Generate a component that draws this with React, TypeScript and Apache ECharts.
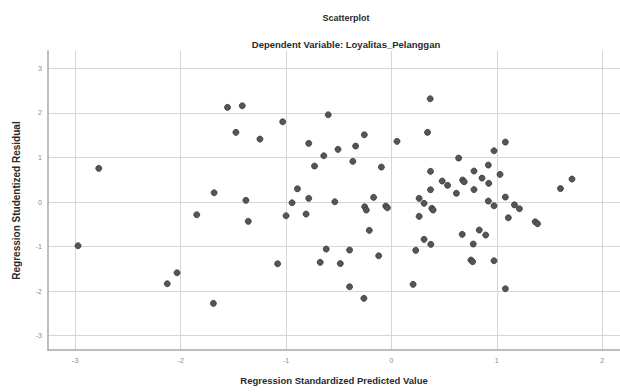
import React, { useEffect, useRef } from "react";
import * as echarts from "echarts";

const predicted: number[] = [
  -2.778, -2.975, -2.128, -2.035, -1.848, -1.69, -1.683, -1.556, -1.416, -1.476,
  -1.381, -1.359, -1.248, -1.032, -1.08, -1.0, -0.943, -0.892, -0.81, -0.785,
  -0.785, -0.73, -0.642, -0.6, -0.507, -0.537, -0.619, -0.676, -0.485, -0.397,
  -0.397, -0.366, -0.34, -0.257, -0.261, -0.254, -0.238, -0.21, -0.169, -0.121,
  -0.095, -0.054, -0.038, 0.053, 0.206, 0.231, 0.263, 0.263, 0.31, 0.31,
  0.343, 0.368, 0.371, 0.371, 0.374, 0.384, 0.396, 0.482, 0.533, 0.617,
  0.638, 0.676, 0.691, 0.672, 0.755, 0.771, 0.777, 0.784, 0.784, 0.834,
  0.86, 0.895, 0.92, 0.924, 0.92, 0.974, 0.974, 0.974, 1.031, 1.082,
  1.082, 1.082, 1.11, 1.168, 1.215, 1.365, 1.387, 1.605, 1.714,
];
const residual: number[] = [
  0.756, -0.98, -1.833, -1.586, -0.285, -2.273, 0.209, 2.125, 2.161, 1.564,
  0.038, -0.433, 1.413, 1.802, -1.384, -0.307, -0.016, 0.298, -0.269, 0.083,
  1.317, 0.808, 1.039, 1.959, 1.182, 0.007, -1.055, -1.353, -1.38, -1.077,
  -1.9, 0.913, 1.256, 1.51, -2.161, -0.105, -0.179, -0.635, 0.105, -1.205,
  0.785, -0.09, -0.128, 1.362, -1.847, -1.084, 0.083, -0.321, -0.029, -0.837,
  1.564, 2.318, 0.689, 0.276, -0.949, -0.141, -0.179, 0.471, 0.375, 0.197,
  0.987, 0.494, 0.455, -0.725, -1.301, -1.339, -0.942, 0.696, 0.28, -0.628,
  0.538, -0.74, 0.83, 0.42, 0.022, 1.151, -0.083, -1.317, 0.621, 1.346,
  0.112, -1.945, -0.352, -0.063, -0.15, -0.442, -0.487, 0.303, 0.516,
];
const xTicks: number[] = [-3, -2, -1, 0, 1, 2];
const yTicks: number[] = [-3, -2, -1, 0, 1, 2, 3];

const FONT = "'Liberation Sans', Arial, sans-serif";

export default function App() {
  const ref = useRef<HTMLDivElement>(null);
  useEffect(() => {
    if (!ref.current) return;
    const chart = echarts.init(ref.current, undefined, { renderer: "svg" });
    const points = predicted.map((x, i) => [x, residual[i]]);
    const gridLines = [
      ...xTicks.map((v) => ({ xAxis: v })),
      ...yTicks.map((v) => ({ yAxis: v })),
    ];
    chart.setOption({
      animation: false,
      backgroundColor: "#ffffff",
      title: [
        {
          text: "Scatterplot",
          left: 341,
          top: 8,
          textAlign: "center",
          textStyle: { fontFamily: FONT, fontSize: 9, fontWeight: "bold", color: "#2a2a2a" },
        },
        {
          text: "Dependent Variable: Loyalitas_Pelanggan",
          left: 341,
          top: 34,
          textAlign: "center",
          textStyle: { fontFamily: FONT, fontSize: 9.5, fontWeight: "bold", color: "#2a2a2a" },
        },
      ],
      grid: { left: 48, right: 0, top: 51, bottom: 42, containLabel: false },
      xAxis: {
        type: "value",
        min: -3.26,
        max: 2.17,
        name: "Regression Standardized Predicted Value",
        nameLocation: "middle",
        nameGap: 25,
        nameTextStyle: { fontFamily: FONT, fontSize: 9.5, fontWeight: "bold", color: "#2a2a2a" },
        axisLine: { show: true, onZero: false, lineStyle: { color: "#a8a8a8", width: 1.5 } },
        axisTick: { show: false },
        splitLine: { show: false },
        axisLabel: {
          customValues: xTicks,
          fontFamily: FONT,
          fontSize: 7,
          color: "#8a8a8a",
          margin: 7,
        },
      },
      yAxis: {
        type: "value",
        min: -3.32,
        max: 3.39,
        name: "Regression Studentized Residual",
        nameLocation: "middle",
        nameGap: 27,
        nameTextStyle: { fontFamily: FONT, fontSize: 10, fontWeight: "bold", color: "#2a2a2a" },
        axisLine: { show: true, onZero: false, lineStyle: { color: "#a8a8a8", width: 1.5 } },
        axisTick: { show: false },
        splitLine: { show: false },
        axisLabel: {
          customValues: yTicks,
          fontFamily: FONT,
          fontSize: 7,
          color: "#8a8a8a",
          margin: 6,
        },
      },
      series: [
        {
          type: "scatter",
          data: points,
          symbol: "circle",
          symbolSize: 6,
          itemStyle: { color: "#555555", borderColor: "#3a3a3a", borderWidth: 0.8, opacity: 1 },
          markLine: {
            silent: true,
            symbol: ["none", "none"],
            label: { show: false },
            lineStyle: { color: "#d6d6d6", width: 1, type: "solid" },
            data: gridLines,
            z: 0,
          },
          z: 3,
        },
      ],
    });
    return () => chart.dispose();
  }, []);
  return (
    <div
      ref={ref}
      style={{ position: "fixed", left: 0, top: 0, width: 620, height: 392, background: "#fff" }}
    />
  );
}
